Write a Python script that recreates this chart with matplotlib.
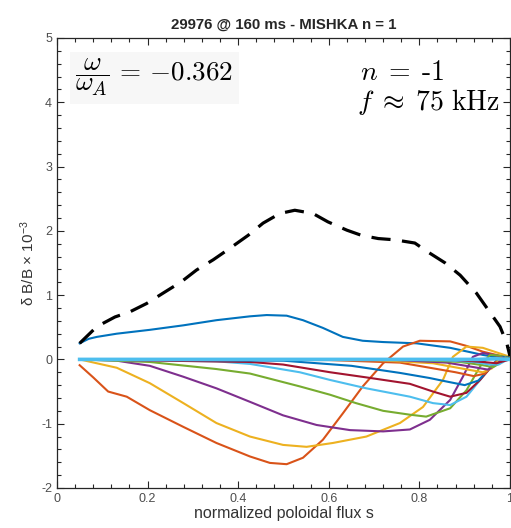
import matplotlib
matplotlib.use("Agg")
import matplotlib.pyplot as plt
from matplotlib.ticker import MultipleLocator

# ================= DATA =================
# dashed envelope
env_s = [0.05, 0.088, 0.128, 0.161, 0.198, 0.234, 0.275, 0.308, 0.345, 0.382,
         0.422, 0.455, 0.492, 0.525, 0.565, 0.598, 0.64, 0.672, 0.709, 0.746,
         0.79, 0.819, 0.857, 0.89, 0.926, 0.952, 0.978, 0.993, 1.0]
env_y = [0.25, 0.51, 0.66, 0.74, 0.87, 1.03, 1.21, 1.39, 1.55, 1.73,
         1.93, 2.12, 2.27, 2.32, 2.27, 2.14, 2.01, 1.93, 1.88, 1.86,
         1.81, 1.67, 1.50, 1.31, 1.03, 0.77, 0.51, 0.25, 0.05]

# poloidal harmonics m = 1 .. 14
m1_s = [0.05, 0.07, 0.088, 0.132, 0.205, 0.279, 0.352, 0.426, 0.463, 0.507, 0.543,
        0.587, 0.631, 0.675, 0.72, 0.794, 0.868, 0.94, 1.0]
m1_y = [0.25, 0.32, 0.35, 0.40, 0.46, 0.53, 0.61, 0.67, 0.69, 0.68, 0.61,
        0.49, 0.35, 0.29, 0.27, 0.25, 0.18, 0.07, 0.0]

m2_s = [0.05, 0.08, 0.113, 0.154, 0.205, 0.279, 0.352, 0.426, 0.47, 0.507,
        0.543, 0.587, 0.631, 0.675, 0.72, 0.764, 0.801, 0.868, 0.904, 0.94, 1.0]
m2_y = [-0.09, -0.28, -0.50, -0.58, -0.79, -1.05, -1.30, -1.51, -1.61, -1.63,
        -1.53, -1.25, -0.84, -0.42, -0.06, 0.20, 0.29, 0.28, 0.21, 0.12, 0.02]

m3_s = [0.05, 0.132, 0.205, 0.279, 0.352, 0.426, 0.499, 0.551, 0.609, 0.683,
        0.757, 0.808, 0.852, 0.874, 0.904, 0.94, 1.0]
m3_y = [0.0, -0.13, -0.37, -0.68, -0.99, -1.20, -1.33, -1.36, -1.30, -1.20,
        -0.99, -0.74, -0.32, 0.04, 0.20, 0.18, 0.04]

m4_s = [0.05, 0.132, 0.205, 0.279, 0.352, 0.426, 0.499, 0.573, 0.647, 0.72,
        0.779, 0.823, 0.868, 0.896, 0.918, 0.94, 1.0]
m4_y = [0.0, -0.02, -0.10, -0.27, -0.45, -0.66, -0.87, -1.02, -1.10, -1.12,
        -1.09, -0.94, -0.63, -0.27, 0.04, 0.10, 0.02]

m5_s = [0.05, 0.205, 0.352, 0.426, 0.536, 0.603, 0.66, 0.72, 0.779, 0.815,
        0.868, 0.904, 0.934, 0.956, 0.975, 1.0]
m5_y = [0.0, -0.04, -0.15, -0.22, -0.42, -0.55, -0.68, -0.80, -0.86, -0.89,
        -0.76, -0.48, -0.11, 0.07, 0.06, 0.02]

m6_s = [0.05, 0.352, 0.426, 0.536, 0.603, 0.683, 0.779, 0.83, 0.868, 0.904,
        0.934, 0.963, 0.98, 1.0]
m6_y = [0.0, -0.03, -0.07, -0.20, -0.32, -0.45, -0.58, -0.68, -0.71, -0.58,
        -0.32, -0.06, 0.03, 0.02]

m7_s = [0.05, 0.426, 0.499, 0.603, 0.683, 0.779, 0.83, 0.868, 0.904, 0.934,
        0.956, 0.978, 1.0]
m7_y = [0.0, -0.04, -0.08, -0.20, -0.28, -0.38, -0.50, -0.58, -0.52, -0.32,
        -0.14, 0.0, 0.02]

m8_s = [0.05, 0.5, 0.65, 0.757, 0.823, 0.85, 0.9, 0.93, 0.955, 0.975, 0.99, 1.0]
m8_y = [0.0, -0.02, -0.10, -0.21, -0.29, -0.33, -0.40, -0.33, -0.14, 0.02, 0.04, 0.02]

m9_s = [0.05, 0.6, 0.757, 0.823, 0.88, 0.92, 0.945, 0.965, 0.98, 1.0]
m9_y = [0.0, -0.01, -0.05, -0.13, -0.20, -0.26, -0.22, -0.06, 0.03, 0.0]

m10_s = [0.05, 0.7, 0.83, 0.9, 0.94, 0.96, 0.975, 0.99, 1.0]
m10_y = [0.0, -0.01, -0.06, -0.15, -0.20, -0.14, -0.02, 0.03, 0.0]

m11_s = [0.05, 0.75, 0.86, 0.92, 0.952, 0.97, 0.985, 1.0]
m11_y = [0.0, -0.01, -0.05, -0.12, -0.16, -0.08, 0.02, 0.0]

m12_s = [0.05, 0.8, 0.89, 0.94, 0.963, 0.98, 0.992, 1.0]
m12_y = [0.0, -0.01, -0.04, -0.09, -0.12, -0.05, 0.02, 0.0]

m13_s = [0.05, 0.85, 0.92, 0.955, 0.975, 0.99, 1.0]
m13_y = [0.0, -0.01, -0.04, -0.08, -0.08, -0.02, 0.0]

m14_s = [0.05, 0.88, 0.94, 0.97, 0.985, 1.0]
m14_y = [0.0, -0.01, -0.04, -0.06, -0.03, 0.0]

# higher harmonics, all ~0 (drawn last, on top)
high_s = [0.05, 0.5, 0.93, 0.97, 1.0]
high_y = [0.0, 0.0, 0.0, 0.01, 0.0]

harmonics = [(m1_s, m1_y), (m2_s, m2_y), (m3_s, m3_y), (m4_s, m4_y),
             (m5_s, m5_y), (m6_s, m6_y), (m7_s, m7_y), (m8_s, m8_y),
             (m9_s, m9_y), (m10_s, m10_y), (m11_s, m11_y), (m12_s, m12_y),
             (m13_s, m13_y), (m14_s, m14_y)]

# matlab default colour order
cores = ['#0072BD', '#D95319', '#EDB120', '#7E2F8E', '#77AC30', '#4DBEEE', '#A2142F']

# ================= FIGURE =================
plt.rcParams['mathtext.fontset'] = 'cm'
plt.rcParams['axes.unicode_minus'] = False
plt.rcParams['font.family'] = ['Liberation Sans', 'DejaVu Sans']

fig = plt.figure(figsize=(5.11, 5.28), dpi=100)
ax = fig.add_axes([0.1115, 0.0758, 0.8865, 0.8523])

for i, (s, y) in enumerate(harmonics):
    ax.plot(s, y, color=cores[i % 7], lw=1.5, zorder=2)

ax.plot(high_s, high_y, color='#4DBEEE', lw=2.6, zorder=3)

ax.plot(env_s, env_y, color='black', lw=2.3, dashes=(6, 3.6), zorder=4)

ax.set_xlim(0, 1)
ax.set_ylim(-2, 5)
ax.xaxis.set_major_locator(MultipleLocator(0.2))
ax.xaxis.set_minor_locator(MultipleLocator(0.04))
ax.yaxis.set_major_locator(MultipleLocator(1))
ax.yaxis.set_minor_locator(MultipleLocator(0.2))
ax.tick_params(which='both', direction='in', top=True, right=True,
               colors='#262626', labelcolor='#4d4d4d', labelsize=9)
ax.tick_params(which='major', length=5, width=0.8)
ax.tick_params(which='minor', length=3, width=0.8)
ax.set_xticks([0, 0.2, 0.4, 0.6, 0.8, 1.0])
ax.set_xticklabels(['0', '0.2', '0.4', '0.6', '0.8', '1'])
for sp in ax.spines.values():
    sp.set_color('#262626')
    sp.set_linewidth(0.9)

ax.set_title('29976 @ 160 ms - MISHKA n = 1', fontsize=10.8, fontweight='bold',
             color='#262626', pad=7)
ax.set_xlabel('normalized poloidal flux s', fontsize=11.5, color='#333333', labelpad=1)
ax.set_ylabel(r'$\mathregular{\delta}$ B/B $\mathregular{\times}$ 10$^{\mathregular{-3}}$',
              fontsize=11, color='#333333', labelpad=3)

# annotations
ax.text(0.04, 4.38, r'$\dfrac{\omega}{\omega_A}\,=\,{-0.362}$', fontsize=19.5,
        va='center', ha='left', zorder=5,
        bbox=dict(boxstyle='square,pad=0.2', fc='#f7f7f7', ec='none'))
ax.text(0.668, 4.45, r'$n\;=\;\text{-1}$', fontsize=20, va='center', ha='left', zorder=5)
ax.text(0.662, 4.0, r'$f\;\approx\;75\ \mathrm{kHz}$', fontsize=20, va='center', ha='left', zorder=5)

plt.savefig('out.png', dpi=100)
plt.close()
